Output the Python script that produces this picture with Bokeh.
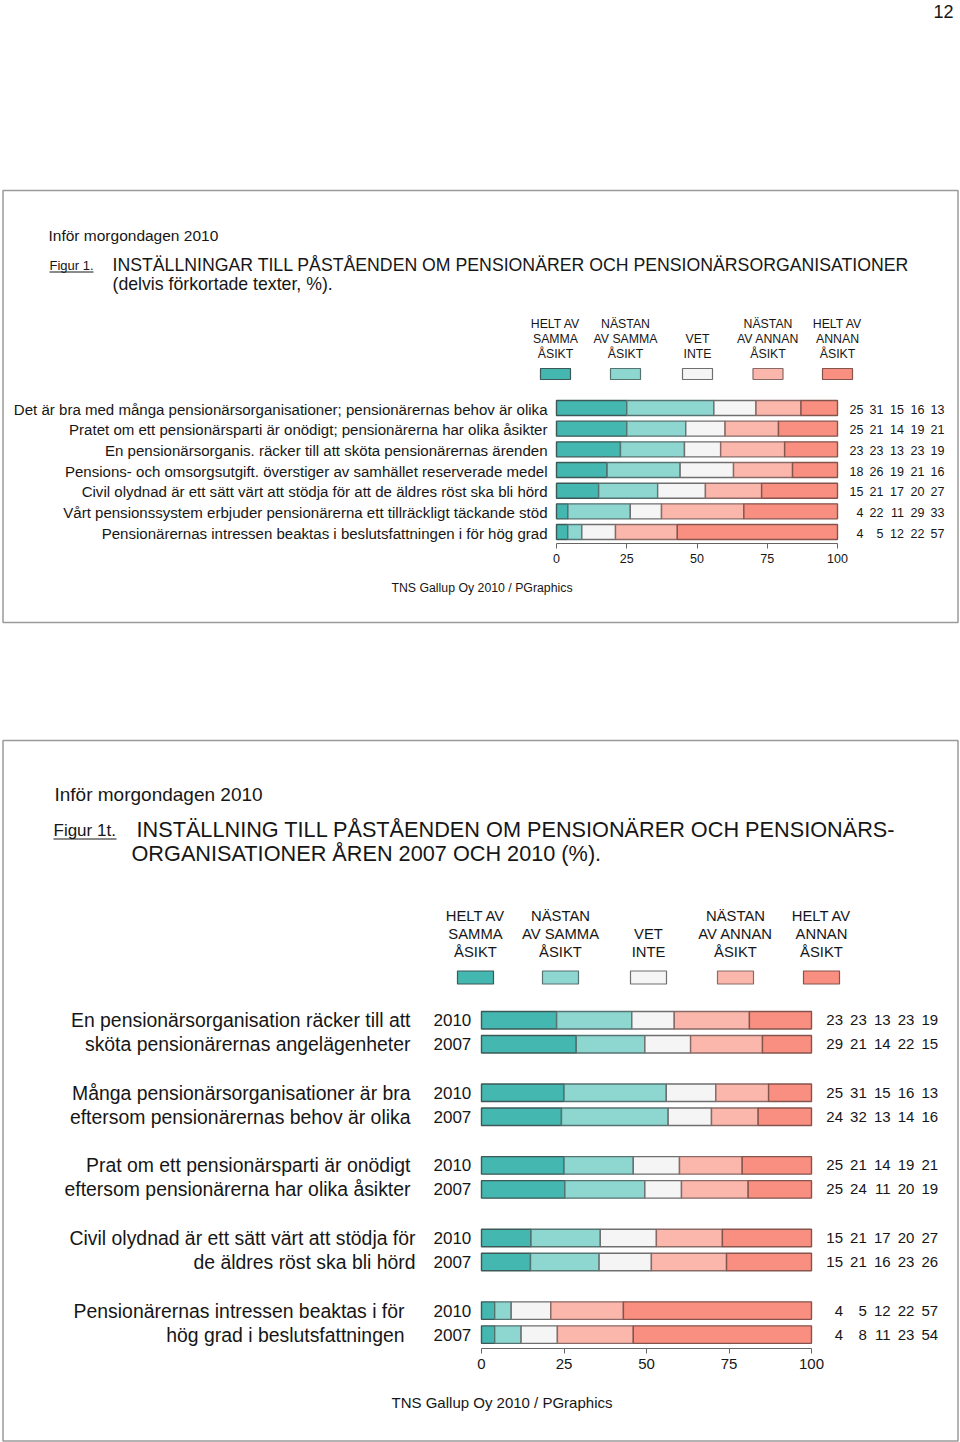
from bokeh.plotting import figure
from bokeh.models import Range1d, LinearAxis, FixedTicker, ColumnDataSource
from bokeh.core.properties import value
from bokeh.embed import file_html
from bokeh.resources import INLINE

# ---------------- data ----------------
legend_lines = [["HELT AV", "SAMMA", "ÅSIKT"],
                ["NÄSTAN", "AV SAMMA", "ÅSIKT"],
                ["VET", "INTE"],
                ["NÄSTAN", "AV ANNAN", "ÅSIKT"],
                ["HELT AV", "ANNAN", "ÅSIKT"]]
fill_colors = ["#43b7b0", "#8ed7d1", "#f5f5f5", "#fbb7ac", "#f98f81"]
edge_colors = ["#3d5957", "#557371", "#6f6f6f", "#8a6a66", "#85544d"]
tick_values = [0, 25, 50, 75, 100]

top_statements = [
    "Det är bra med många pensionärsorganisationer; pensionärernas behov är olika",
    "Pratet om ett pensionärsparti är onödigt; pensionärerna har olika åsikter",
    "En pensionärsorganis. räcker till att sköta pensionärernas ärenden",
    "Pensions- och omsorgsutgift. överstiger av samhället reserverade medel",
    "Civil olydnad är ett sätt värt att stödja för att de äldres röst ska bli hörd",
    "Vårt pensionssystem erbjuder pensionärerna ett tillräckligt täckande stöd",
    "Pensionärernas intressen beaktas i beslutsfattningen i för hög grad",
]
top_helt_samma = [25, 25, 23, 18, 15, 4, 4]
top_nastan_samma = [31, 21, 23, 26, 21, 22, 5]
top_vet_inte = [15, 14, 13, 19, 17, 11, 12]
top_nastan_annan = [16, 19, 23, 21, 20, 29, 22]
top_helt_annan = [13, 21, 19, 16, 27, 33, 57]

bot_statements = [
    ["En pensionärsorganisation räcker till att", "sköta pensionärernas angelägenheter"],
    ["Många pensionärsorganisationer är bra", "eftersom pensionärernas behov är olika"],
    ["Prat om ett pensionärsparti är onödigt", "eftersom pensionärerna har olika åsikter"],
    ["Civil olydnad är ett sätt värt att stödja för", "de äldres röst ska bli hörd"],
    ["Pensionärernas intressen beaktas i för", "hög grad i beslutsfattningen"],
]
bot_years = ["2010", "2007"] * 5
bot_helt_samma = [23, 29, 25, 24, 25, 25, 15, 15, 4, 4]
bot_nastan_samma = [23, 21, 31, 32, 21, 24, 21, 21, 5, 8]
bot_vet_inte = [13, 14, 15, 13, 14, 11, 17, 16, 12, 11]
bot_nastan_annan = [23, 22, 16, 14, 19, 20, 20, 23, 22, 23]
bot_helt_annan = [19, 15, 13, 16, 21, 19, 27, 26, 57, 54]

FONT = "Liberation Sans"
INK = "#161616"

# ---------------- page figure (data coords = screen pixels) ----------------
W, H = 960, 1442
p = figure(width=W, height=H, x_range=Range1d(0, W), y_range=Range1d(H, 0),
           x_axis_type=None, y_axis_type=None, toolbar_location=None,
           output_backend="svg", min_border=0)
p.outline_line_color = None
p.background_fill_color = "white"
p.border_fill_color = "white"


def txt(xs, ys, texts, size, align="left", font=FONT, color=INK):
    p.text(x=xs, y=ys, text=texts, text_align=align, text_baseline="middle",
           text_font=value(font), text_font_size=value(size), text_color=color)


# chart geometry
TOP_X0, TOP_X100 = 556.0, 837.0
BOT_X0, BOT_X100 = 481.0, 811.0


def xr(x0, x100):
    s = (x100 - x0) / 100.0
    return Range1d((0 - x0) / s, (W - x0) / s)


p.extra_x_ranges = {"top": xr(TOP_X0, TOP_X100), "bot": xr(BOT_X0, BOT_X100)}


def draw_bars(series, ycent, bar_h, rname):
    n = len(ycent)
    totals = [sum(s[i] for s in series) for i in range(n)]
    cum = [0.0] * n
    for k, s in enumerate(series):
        left = [cum[i] / totals[i] * 100 for i in range(n)]
        cum = [cum[i] + s[i] for i in range(n)]
        right = [cum[i] / totals[i] * 100 for i in range(n)]
        src = ColumnDataSource(dict(y=ycent, left=left, right=right))
        p.hbar(y="y", left="left", right="right", height=bar_h, source=src,
               fill_color=fill_colors[k], line_color=edge_colors[k], line_width=1.4,
               x_range_name=rname)


def add_axis(rname, yloc, size, standoff):
    ax = LinearAxis(x_range_name=rname, fixed_location=yloc, bounds=(0, 100),
                    ticker=FixedTicker(ticks=tick_values, minor_ticks=[]))
    ax.axis_line_color = "#666666"
    ax.axis_line_width = 1.2
    ax.major_tick_line_color = "#666666"
    ax.major_tick_out = 5
    ax.major_tick_in = 0
    ax.minor_tick_out = 0
    ax.minor_tick_in = 0
    ax.major_label_standoff = standoff
    ax.major_label_text_font = FONT
    ax.major_label_text_font_size = size
    ax.major_label_text_color = INK
    p.add_layout(ax, "below")


def draw_legend(xc, line_ys, sw_y, sw_w, sw_h, size):
    for k, lines in enumerate(legend_lines):
        ys = line_ys[len(line_ys) - len(lines):]
        txt([xc[k]] * len(lines), ys, lines, size, align="center")
    p.rect(x=xc, y=[sw_y] * 5, width=sw_w, height=sw_h, fill_color=fill_colors,
           line_color=edge_colors, line_width=1.2)


def draw_numbers(series, ycent, right_edges, size):
    for k, s in enumerate(series):
        txt([right_edges[k]] * len(ycent), ycent, [str(v) for v in s], size, align="right")


# page number
txt([953], [11], ["12"], "18px", align="right")

# frames
p.quad(left=[2.5, 2.5], right=[957.5, 957.5], top=[190, 740], bottom=[622, 1440.5],
       fill_color=None, line_color="#9a9a9a", line_width=1.5)

# ---------------- top chart ----------------
txt([48], [235], ["Inför morgondagen 2010"], "15.5px")
txt([49], [265], ["Figur 1."], "13px")
p.segment(x0=[49], y0=[271.5], x1=[93], y1=[271.5], line_color=INK, line_width=1)
txt([112, 112], [264, 283],
    ["INSTÄLLNINGAR TILL PÅSTÅENDEN OM PENSIONÄRER OCH PENSIONÄRSORGANISATIONER",
     "(delvis förkortade texter, %)."], "17.7px")

draw_legend([555, 625, 697, 767.5, 837], [323, 338, 353], 373.5, 30, 11, "12.3px")

top_y = [407.5 + 20.67 * i for i in range(len(top_statements))]
top_series = [top_helt_samma, top_nastan_samma, top_vet_inte, top_nastan_annan, top_helt_annan]
draw_bars(top_series, top_y, 15, "top")
txt([547] * len(top_statements), [y + 1 for y in top_y], top_statements, "15.05px", align="right")
draw_numbers(top_series, [y + 1 for y in top_y], [863, 883, 903.5, 924, 944], "12.5px")
add_axis("top", 543, "12.5px", 5)
txt([481.5], [587], ["TNS Gallup Oy 2010 / PGraphics"], "12.3px", align="center")

# ---------------- bottom chart ----------------
txt([54], [794], ["Inför morgondagen 2010"], "19px")
txt([53], [830], ["Figur 1t."], "17px")
p.segment(x0=[53], y0=[838.5], x1=[116], y1=[838.5], line_color=INK, line_width=1.2)
txt([136, 131], [829, 853],
    ["INSTÄLLNING TILL PÅSTÅENDEN OM PENSIONÄRER OCH PENSIONÄRS-",
     "ORGANISATIONER ÅREN 2007 OCH 2010 (%)."], "21.7px")

draw_legend([475, 560, 648, 735, 821], [915, 933, 951], 977, 36, 13, "14.8px")

bot_y = []
for g in range(len(bot_statements)):
    bot_y += [1019.7 + 72.6 * g, 1043.7 + 72.6 * g]
bot_series = [bot_helt_samma, bot_nastan_samma, bot_vet_inte, bot_nastan_annan, bot_helt_annan]
draw_bars(bot_series, bot_y, 17.5, "bot")
stmt_right = [410, 410, 410, 415, 404]
for g, lines in enumerate(bot_statements):
    txt([stmt_right[g]] * 2, [bot_y[2 * g], bot_y[2 * g + 1]], lines, "19.4px", align="right")
txt([433] * len(bot_years), bot_y, bot_years, "17px")
draw_numbers(bot_series, bot_y, [842.5, 866.3, 890.1, 913.9, 937.7], "15px")
add_axis("bot", 1348, "15px", 5)
txt([501.5], [1402], ["TNS Gallup Oy 2010 / PGraphics"], "15px", align="center")

open("out.html", "w").write(file_html(p, INLINE))
